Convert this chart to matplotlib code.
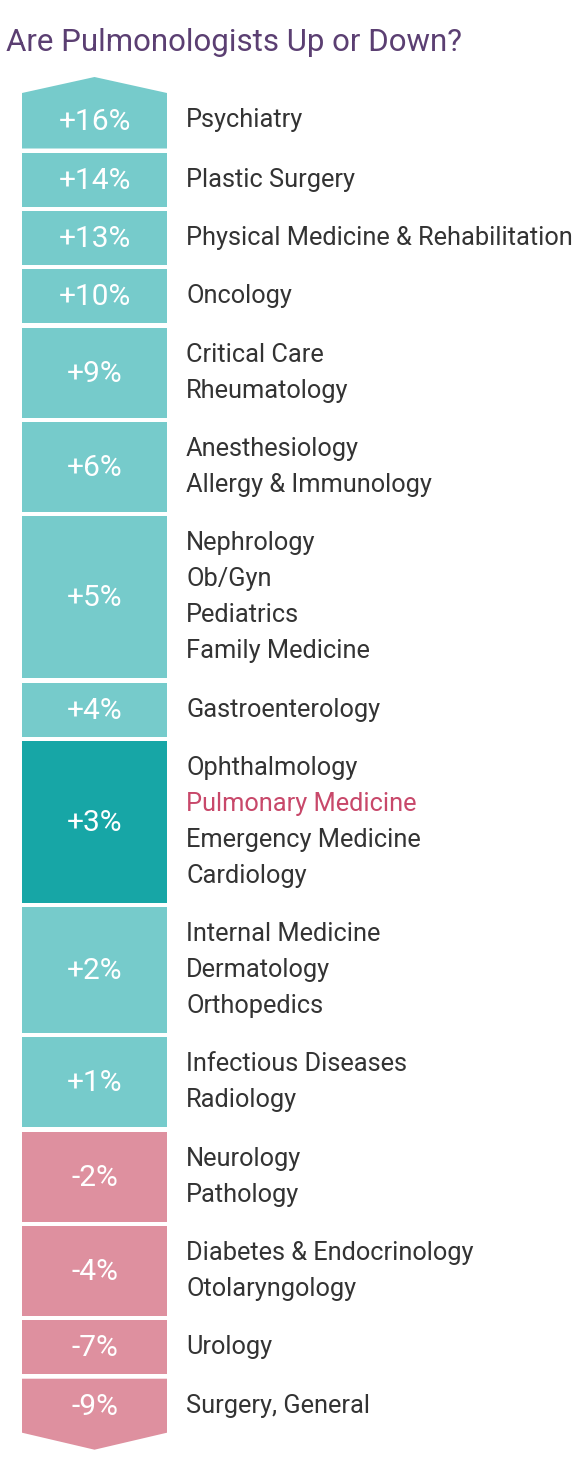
import matplotlib
matplotlib.use("Agg")
import matplotlib.pyplot as plt
from matplotlib.patches import Polygon

values = ["+16%", "+14%", "+13%", "+10%", "+9%", "+6%", "+5%", "+4%", "+3%", "+2%", "+1%", "-2%", "-4%", "-7%", "-9%"]
groups = [
    ["Psychiatry"],
    ["Plastic Surgery"],
    ["Physical Medicine & Rehabilitation"],
    ["Oncology"],
    ["Critical Care", "Rheumatology"],
    ["Anesthesiology", "Allergy & Immunology"],
    ["Nephrology", "Ob/Gyn", "Pediatrics", "Family Medicine"],
    ["Gastroenterology"],
    ["Ophthalmology", "Pulmonary Medicine", "Emergency Medicine", "Cardiology"],
    ["Internal Medicine", "Dermatology", "Orthopedics"],
    ["Infectious Diseases", "Radiology"],
    ["Neurology", "Pathology"],
    ["Diabetes & Endocrinology", "Otolaryngology"],
    ["Urology"],
    ["Surgery, General"],
]
highlight = "Pulmonary Medicine"

W, H = 580, 1471
fig = plt.figure(figsize=(W/100, H/100), dpi=100)
ax = fig.add_axes([0, 0, 1, 1])
ax.set_xlim(0, W); ax.set_ylim(H, 0); ax.axis("off")

FONT = ["Liberation Sans Narrow", "Roboto", "DejaVu Sans"]
ax.text(6, 42, "Are Pulmonologists Up or Down?", fontsize=22.5, color="#5B3F72",
        family=FONT, va="center", ha="left")

x0, x1 = 22, 167
xc = (x0 + x1) / 2
y = 93
LH, PAD, GAP = 36, 18, 4.3
for i, (v, labs) in enumerate(zip(values, groups)):
    h = PAD + LH * len(labs)
    if i == 0:
        h += 1.5
    top, bot = y, y + h
    neg = v.startswith("-")
    col = "#DE909F" if neg else ("#17A6A6" if highlight in labs else "#76CBCB")
    pts = [(x0, top), (x1, top), (x1, bot), (x0, bot)]
    if i == 0:
        pts = [(x0, top), (xc, top - 16), (x1, top), (x1, bot), (x0, bot)]
    if i == len(values) - 1:
        pts = [(x0, top), (x1, top), (x1, bot), (xc, bot + 17), (x0, bot)]
    ax.add_patch(Polygon(pts, closed=True, color=col, lw=0))
    ax.text(xc, (top + bot) / 2 + 1, v, color="white", fontsize=21.5, family=FONT,
            ha="center", va="center")
    ty = top + PAD / 2 + LH / 2
    for lab in labs:
        ax.text(186, ty, lab, color="#C8486A" if lab == highlight else "#333333",
                fontsize=18.3, family=FONT, ha="left", va="center")
        ty += LH
    y = bot + GAP

fig.savefig("out.png", dpi=100, facecolor="white")
